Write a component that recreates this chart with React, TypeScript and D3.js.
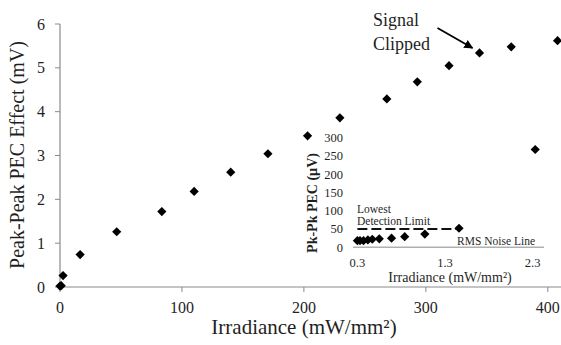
import { useEffect, useRef } from "react"
import * as d3 from "d3"

// main series (mW/mm², mV)
const mainIrr = [0, 1, 2.5, 16.5, 46.5, 83.5, 110, 140, 170.5, 203, 229.5, 268, 293, 319, 344, 370, 408]
const mainPec = [0.02, 0.03, 0.26, 0.74, 1.26, 1.72, 2.18, 2.62, 3.04, 3.45, 3.86, 4.29, 4.68, 5.05, 5.34, 5.48, 5.62]
const mainXTicks = [0, 100, 200, 300, 400]
const mainYTicks = [0, 1, 2, 3, 4, 5, 6]

// inset series (mW/mm², µV)
const insetIrr = [0.3, 0.33, 0.37, 0.42, 0.47, 0.55, 0.69, 0.84, 1.07, 1.46, 2.33]
const insetPec = [18, 18, 18, 20, 22, 23, 25, 29, 36, 52, 267]
const insetXTicks = [0.3, 1.3, 2.3]
const insetYTicks = [0, 50, 100, 150, 200, 250, 300]
const detectionLimit = 50
const clippedIndex = 14

const FONT = "Liberation Serif, Times New Roman, DejaVu Serif, serif"
const TEXT = "#1f1f1f"
const diamond = "M0,-4.6L4.6,0L0,4.6L-4.6,0Z"

export default function App() {
  const svgRef = useRef<SVGSVGElement>(null)

  useEffect(() => {
    if (!svgRef.current) return
    const svg = d3.select(svgRef.current)
    svg.selectAll("*").remove()
    svg.attr("font-family", FONT)

    // Escalas principales
    const x = d3.scaleLinear().domain([0, 410]).range([60, 560])
    const y = d3.scaleLinear().domain([0, 6]).range([287, 24])

    // Ejes principales
    svg.append("line").attr("x1", x(0)).attr("x2", 561).attr("y1", y(0)).attr("y2", y(0))
      .attr("stroke", "#8a8a8a").attr("stroke-width", 1.2)
    svg.append("line").attr("x1", x(0)).attr("x2", x(0)).attr("y1", y(0)).attr("y2", y(6))
      .attr("stroke", "#8a8a8a").attr("stroke-width", 1.2)

    mainXTicks.forEach((t) => {
      svg.append("line").attr("x1", x(t)).attr("x2", x(t)).attr("y1", y(0)).attr("y2", y(0) + 5)
        .attr("stroke", "#8a8a8a")
      svg.append("text").attr("x", x(t)).attr("y", 313).attr("text-anchor", "middle")
        .attr("font-family", FONT).attr("font-size", 16).attr("fill", TEXT).text(t)
    })
    mainYTicks.forEach((t) => {
      svg.append("line").attr("x1", x(0) - 5).attr("x2", x(0)).attr("y1", y(t)).attr("y2", y(t))
        .attr("stroke", "#8a8a8a")
      svg.append("text").attr("x", 45).attr("y", y(t) + 5.5).attr("text-anchor", "end")
        .attr("font-family", FONT).attr("font-size", 16).attr("fill", TEXT).text(t)
    })

    svg.append("text").attr("x", 304).attr("y", 334).attr("text-anchor", "middle")
      .attr("font-family", FONT).attr("font-size", 21).attr("fill", TEXT)
      .text("Irradiance (mW/mm²)")
    svg.append("text").attr("transform", "translate(24,155) rotate(-90)").attr("text-anchor", "middle")
      .attr("font-family", FONT).attr("font-size", 20).attr("fill", TEXT)
      .text("Peak-Peak PEC Effect (mV)")

    // Puntos principales
    svg.append("g").selectAll("path").data(mainIrr).enter().append("path")
      .attr("d", diamond)
      .attr("transform", (d, i) => `translate(${x(d)},${y(mainPec[i])})`)
      .attr("fill", "#000")

    // Anotación "Signal Clipped"
    const cx = x(mainIrr[clippedIndex])
    const cy = y(mainPec[clippedIndex])
    svg.append("defs").append("marker").attr("id", "arrow").attr("viewBox", "0 0 10 10")
      .attr("refX", 9).attr("refY", 5).attr("markerWidth", 5).attr("markerHeight", 5)
      .attr("orient", "auto")
      .append("path").attr("d", "M0,0L10,5L0,10Z").attr("fill", "#000")
    svg.append("line").attr("x1", cx - 42).attr("y1", cy - 25).attr("x2", cx - 7).attr("y2", cy - 5)
      .attr("stroke", "#000").attr("stroke-width", 1.8).attr("marker-end", "url(#arrow)")
    const sc = svg.append("text").attr("font-family", FONT).attr("font-size", 18).attr("fill", TEXT)
    sc.append("tspan").attr("x", 373).attr("y", 26).text("Signal")
    sc.append("tspan").attr("x", 373).attr("y", 50).text("Clipped")

    // Inserto
    const ix = d3.scaleLinear().domain([0.25, 2.43]).range([353, 544])
    const iy = d3.scaleLinear().domain([0, 300]).range([247.3, 137.4])

    svg.append("line").attr("x1", ix(0.25)).attr("x2", ix(2.43)).attr("y1", iy(0)).attr("y2", iy(0))
      .attr("stroke", "#b0b0b0").attr("stroke-width", 1.5)
    svg.append("line").attr("x1", ix(insetIrr[0])).attr("x2", ix(insetIrr[9])).attr("y1", iy(detectionLimit))
      .attr("y2", iy(detectionLimit)).attr("stroke", "#111").attr("stroke-width", 2)
      .attr("stroke-dasharray", "10,4")

    insetXTicks.forEach((t) => {
      svg.append("text").attr("x", ix(t)).attr("y", 267).attr("text-anchor", "middle")
        .attr("font-family", FONT).attr("font-size", 12.5).attr("fill", TEXT).text(t)
    })
    insetYTicks.forEach((t) => {
      svg.append("text").attr("x", 343).attr("y", iy(t) + 4.5).attr("text-anchor", "end")
        .attr("font-family", FONT).attr("font-size", 12.5).attr("fill", TEXT).text(t)
    })
    svg.append("text").attr("x", 450).attr("y", 282).attr("text-anchor", "middle")
      .attr("font-family", FONT).attr("font-size", 14).attr("fill", TEXT)
      .text("Irradiance (mW/mm²)")
    svg.append("text").attr("transform", "translate(317,203) rotate(-90)").attr("text-anchor", "middle")
      .attr("font-family", FONT).attr("font-size", 14).attr("font-weight", "bold").attr("fill", TEXT)
      .text("Pk-Pk PEC (µV)")

    svg.append("text").attr("x", 357).attr("y", 213).attr("font-family", FONT).attr("font-size", 11.5)
      .attr("fill", TEXT).text("Lowest")
    svg.append("text").attr("x", 357).attr("y", 225).attr("font-family", FONT).attr("font-size", 11.5)
      .attr("fill", TEXT).text("Detection Limit")
    svg.append("text").attr("x", 535).attr("y", 245).attr("text-anchor", "end")
      .attr("font-family", FONT).attr("font-size", 11.5).attr("fill", TEXT).text("RMS Noise Line")

    svg.append("g").selectAll("path").data(insetIrr).enter().append("path")
      .attr("d", diamond)
      .attr("transform", (d, i) => `translate(${ix(d)},${iy(insetPec[i])})`)
      .attr("fill", "#000")
  }, [])

  return (
    <svg
      ref={svgRef}
      width={561}
      height={345}
      style={{ position: "absolute", left: 0, top: 0, background: "#fff" }}
    />
  )
}
